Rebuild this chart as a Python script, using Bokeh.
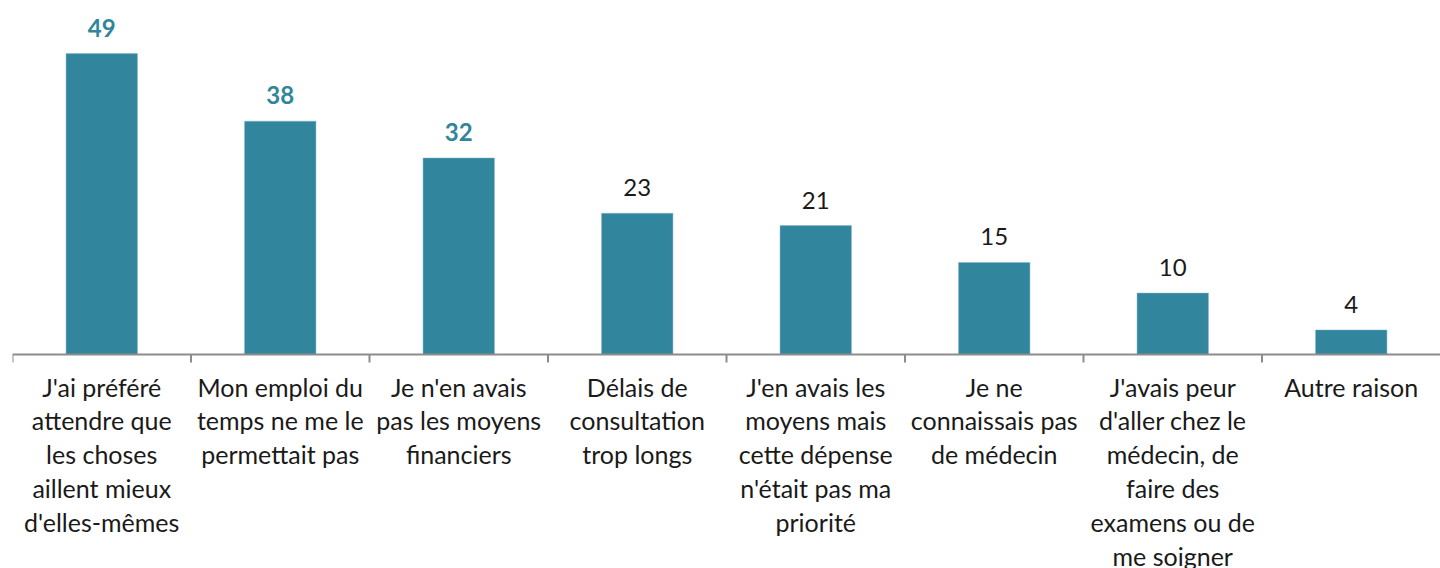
from bokeh.plotting import figure
from bokeh.models import ColumnDataSource, Span
from bokeh.transform import dodge
from bokeh.core.properties import value
from bokeh.embed import file_html
from bokeh.resources import INLINE

categories = [
    "J'ai préféré\nattendre que\nles choses\naillent mieux\nd'elles-mêmes",
    "Mon emploi du\ntemps ne me le\npermettait pas",
    "Je n'en avais\npas les moyens\nfinanciers",
    "Délais de\nconsultation\ntrop longs",
    "J'en avais les\nmoyens mais\ncette dépense\nn'était pas ma\npriorité",
    "Je ne\nconnaissais pas\nde médecin",
    "J'avais peur\nd'aller chez le\nmédecin, de\nfaire des\nexamens ou de\nme soigner",
    "Autre raison",
]
values = [49, 38, 32, 23, 21, 15, 10, 4]
highlight = [True, True, True, False, False, False, False, False]

TEAL = "#31859c"
FONT = "Lato"
GRAY = "#8c8c8c"

src = ColumnDataSource(dict(
    cat=categories,
    val=values,
    lbl=[str(v) for v in values],
    col=[TEAL if h else "#1a1a1a" for h in highlight],
    sty=["bold" if h else "normal" for h in highlight],
    zero=[0] * len(values),
    low=[-1.3] * len(values),
))

p = figure(x_range=categories, y_range=(-34.85, 57.65), width=1440, height=568,
           output_backend="svg", toolbar_location=None,
           min_border_left=12, min_border_right=0, min_border_top=0, min_border_bottom=0)
p.outline_line_color = None
p.grid.grid_line_color = None
p.axis.visible = False
p.x_range.range_padding = 0

p.vbar(x="cat", top="val", bottom=0, width=0.4, source=src, fill_color=TEAL,
       line_color="#7fb6c6", line_width=0.5)

# value labels
p.text(x="cat", y="val", text="lbl", source=src, text_align="center",
       text_baseline="bottom", y_offset=-17, text_font=value(FONT),
       text_font_size="24px", text_color="col", text_font_style="sty")

# baseline and category separator ticks
p.add_layout(Span(location=0, dimension="width", line_color=GRAY, line_width=2))
p.segment(x0=dodge("cat", -0.5, range=p.x_range), x1=dodge("cat", -0.5, range=p.x_range),
          y0="zero", y1="low", source=src, line_color=GRAY, line_width=2)

# category labels under the baseline
p.text(x="cat", y="zero", text="cat", source=src, text_align="center",
       text_baseline="top", y_offset=17, text_font=value(FONT),
       text_font_size="25px", text_color="#1a1a1a", text_line_height=1.13)

open("out.html", "w").write(file_html(p, INLINE))
